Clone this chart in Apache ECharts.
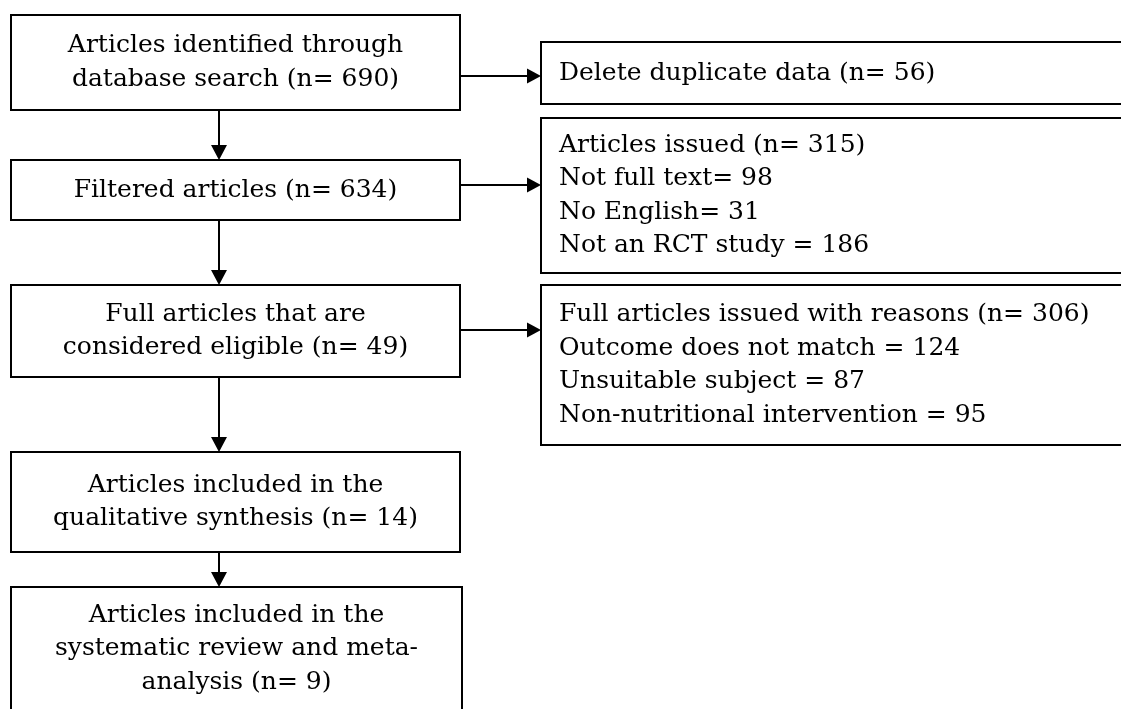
<!DOCTYPE html>
<html>
<head>
<meta charset="utf-8">
<script src="https://cdn.jsdelivr.net/npm/echarts@6/dist/echarts.min.js"></script>
<style>
  html, body { margin: 0; padding: 0; background: #fff; }
  #chart { width: 1121px; height: 709px; }
</style>
</head>
<body>
<div id="chart"></div>
<script>
// main screening steps
var stepNames = [
    'Articles identified through\ndatabase search',
    'Filtered articles',
    'Full articles that are\nconsidered eligible',
    'Articles included in the\nqualitative synthesis',
    'Articles included in the\nsystematic review and meta-\nanalysis'
];
var stepCounts = [690, 634, 49, 14, 9];

// records removed at each step
var excludedNames = ['Delete duplicate data', 'Articles issued', 'Full articles issued with reasons'];
var excludedCounts = [56, 315, 306];
var reasonNames = [
    [],
    ['Not full text=', 'No English=', 'Not an RCT study ='],
    ['Outcome does not match =', 'Unsuitable subject =', 'Non-nutritional intervention =']
];
var reasonCounts = [
    [],
    [98, 31, 186],
    [124, 87, 95]
];

// layout in axis units (x 0..1121, y 0..709 from the top)
var stepBoxes = [[11, 460, 15, 110], [11, 460, 160, 220], [11, 460, 285, 377], [11, 460, 452, 552], [11, 462, 587, 716]];
var sideBoxes = [[541, 1135, 42, 104], [541, 1135, 118, 273], [541, 1135, 285, 445]];
var downX = 219;
var sideArrowY = [76, 185, 330];
var sideTextX = 559;

var FONT = 'DejaVu Serif';
var FONT_SIZE = 25;
var LINE_H = 33.5;
var INK = '#000';

var myChart = echarts.init(document.getElementById('chart'));

function stepLabel(i) {
    return stepNames[i] + ' (n= ' + stepCounts[i] + ')';
}
function sideLabel(i) {
    var lines = [excludedNames[i] + ' (n= ' + excludedCounts[i] + ')'];
    for (var k = 0; k < reasonNames[i].length; k++) {
        lines.push(reasonNames[i][k] + ' ' + reasonCounts[i][k]);
    }
    return lines.join('\n');
}

function boxShape(api, b) {
    var p0 = api.coord([b[0], b[2]]);
    var p1 = api.coord([b[1], b[3]]);
    return { x: p0[0], y: p0[1], width: p1[0] - p0[0], height: p1[1] - p0[1] };
}

function arrow(from, to, head) {
    var dx = to[0] - from[0], dy = to[1] - from[1];
    var len = Math.sqrt(dx * dx + dy * dy);
    var ux = dx / len, uy = dy / len;
    var bx = to[0] - ux * head, by = to[1] - uy * head;
    var half = head / 2 + 0.5;
    return [
        { type: 'line', shape: { x1: from[0], y1: from[1], x2: bx, y2: by }, style: { stroke: INK, lineWidth: 2 } },
        { type: 'polygon', shape: { points: [[to[0], to[1]], [bx - uy * half, by + ux * half], [bx + uy * half, by - ux * half]] }, style: { fill: INK } }
    ];
}

myChart.setOption({
    backgroundColor: '#fff',
    animation: false,
    grid: { left: 0, right: 0, top: 0, bottom: 0 },
    xAxis: { type: 'value', min: 0, max: 1121, show: false },
    yAxis: { type: 'value', min: 0, max: 709, inverse: true, show: false },
    series: [
        {
            // main column boxes
            type: 'custom',
            data: stepCounts.map(function (c, i) { return [i, c]; }),
            renderItem: function (params, api) {
                var i = params.dataIndex;
                var r = boxShape(api, stepBoxes[i]);
                var lines = stepLabel(i).split('\n').length;
                // last box runs off the page, so its text hangs from the top edge
                var ty = stepBoxes[i][3] > 709 ? r.y + 28 - LINE_H / 2 + lines * LINE_H / 2 : r.y + r.height / 2;
                return {
                    type: 'group',
                    children: [
                        { type: 'rect', shape: r, style: { fill: '#fff', stroke: INK, lineWidth: 2 } },
                        {
                            type: 'text',
                            style: {
                                text: stepLabel(i), x: r.x + r.width / 2, y: ty,
                                align: 'center', verticalAlign: 'middle',
                                fontFamily: FONT, fontSize: FONT_SIZE, lineHeight: LINE_H, fill: INK
                            }
                        }
                    ]
                };
            }
        },
        {
            // excluded records boxes
            type: 'custom',
            data: excludedCounts.map(function (c, i) { return [i, c]; }),
            renderItem: function (params, api) {
                var i = params.dataIndex;
                var r = boxShape(api, sideBoxes[i]);
                return {
                    type: 'group',
                    children: [
                        { type: 'rect', shape: r, style: { fill: '#fff', stroke: INK, lineWidth: 2 } },
                        {
                            type: 'text',
                            style: {
                                text: sideLabel(i), x: api.coord([sideTextX, 0])[0], y: r.y + r.height / 2,
                                align: 'left', verticalAlign: 'middle',
                                fontFamily: FONT, fontSize: FONT_SIZE, lineHeight: LINE_H, fill: INK
                            }
                        }
                    ]
                };
            }
        },
        {
            // arrows
            type: 'custom',
            data: stepCounts.map(function (c, i) { return [i, c]; }),
            renderItem: function (params, api) {
                var i = params.dataIndex;
                var kids = [];
                if (i < stepBoxes.length - 1) {
                    kids = kids.concat(arrow(api.coord([downX, stepBoxes[i][3]]), api.coord([downX, stepBoxes[i + 1][2]]), 15));
                }
                if (i < sideBoxes.length) {
                    kids = kids.concat(arrow(api.coord([stepBoxes[i][1], sideArrowY[i]]), api.coord([sideBoxes[i][0], sideArrowY[i]]), 14));
                }
                return { type: 'group', children: kids };
            }
        }
    ]
});
</script>
</body>
</html>
